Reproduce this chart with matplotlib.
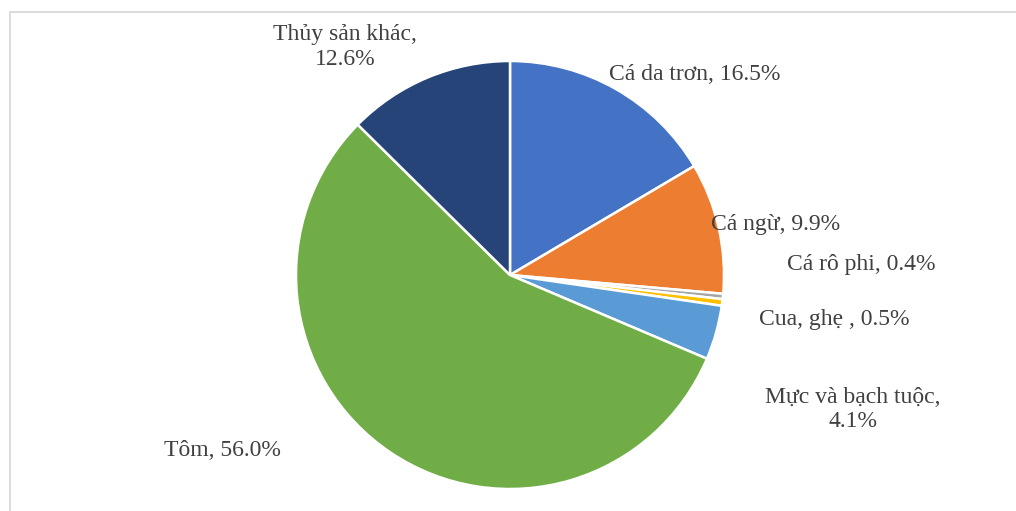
import matplotlib.pyplot as plt
from matplotlib.patches import Rectangle

plt.rcParams['font.family'] = ['Liberation Serif', 'DejaVu Serif']

labels = ['Cá da trơn', 'Cá ngừ', 'Cá rô phi', 'Cua, ghẹ ', 'Mực và bạch tuộc', 'Tôm', 'Thủy sản khác']
shares = [16.5, 9.9, 0.4, 0.5, 4.1, 56.0, 12.6]
colors = ['#4472C4', '#ED7D31', '#A5A5A5', '#FFC000', '#5B9BD5', '#70AD47', '#264478']

# label centres, in units of the pie radius
label_xy = [(0.864, 0.935), (1.243, 0.238), (1.64, 0.047), (1.515, -0.21),
            (1.603, -0.63), (-1.346, -0.818), (-0.77, 1.065)]
label_text = ['{}, {:.1f}%', '{}, {:.1f}%', '{}, {:.1f}%', '{}, {:.1f}%',
              '{},\n{:.1f}%', '{}, {:.1f}%', '{},\n{:.1f}%']

W, H = 1016, 511
cx, cy, r = 510, 275, 214

fig = plt.figure(figsize=(W / 100, H / 100), dpi=100)
ax = fig.add_axes([0, 0, 1, 1])
ax.axis('off')

ax.pie(shares, colors=colors, startangle=90, counterclock=False, radius=1,
       wedgeprops=dict(edgecolor='white', linewidth=1.8))
ax.set_xlim(-cx / r, (W - cx) / r)
ax.set_ylim(-(H - cy) / r, cy / r)

for name, val, (x, y), fmt in zip(labels, shares, label_xy, label_text):
    ax.text(x, y, fmt.format(name, val), ha='center', va='center',
            fontsize=17, color='#404040', linespacing=1.2)

# chart area frame
fig.patches.append(Rectangle((9.5 / W, -0.1), 1.2, (H - 12) / H + 0.1,
                             transform=fig.transFigure, fill=False,
                             edgecolor='#D9D9D9', linewidth=1.3))

fig.savefig('out.png', dpi=100)
